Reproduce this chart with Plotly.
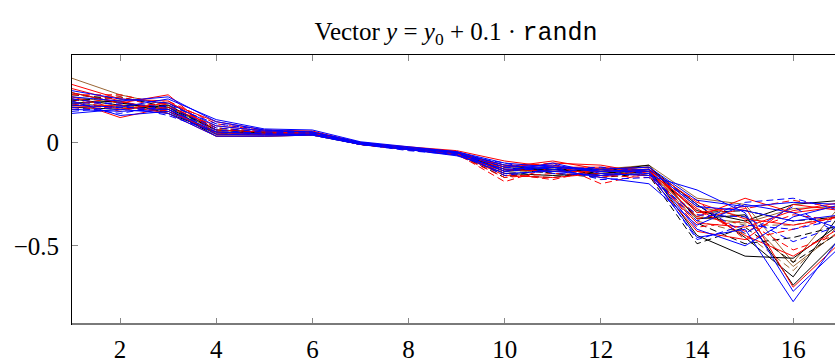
import plotly.graph_objects as go

x_vals = list(range(1, 18))
x_ticks = [2, 4, 6, 8, 10, 12, 14, 16]
y_ticks = [-0.5, 0]
y_tick_text = ["\u22120.5", "0"]

# blue solid
b1 = [0.16, 0.15, 0.16, 0.05, 0.04, 0.04, -0.005, -0.03, -0.05, -0.12, -0.11, -0.14, -0.13, -0.31, -0.33, -0.38, -0.35]
b2 = [0.22, 0.20, 0.22, 0.10, 0.06, 0.05, 0.000, -0.025, -0.045, -0.10, -0.12, -0.13, -0.12, -0.28, -0.31, -0.29, -0.30]
b3 = [0.14, 0.16, 0.14, 0.03, 0.03, 0.035, -0.01, -0.035, -0.06, -0.15, -0.14, -0.16, -0.15, -0.46, -0.42, -0.77, -0.45]
b4 = [0.25, 0.21, 0.19, 0.08, 0.055, 0.05, -0.005, -0.03, -0.05, -0.14, -0.10, -0.15, -0.16, -0.23, -0.34, -0.72, -0.50]
b5 = [0.18, 0.17, 0.21, 0.11, 0.065, 0.06, 0.003, -0.02, -0.045, -0.11, -0.13, -0.17, -0.20, -0.40, -0.30, -0.34, -0.42]
b6 = [0.20, 0.13, 0.15, 0.04, 0.035, 0.04, -0.01, -0.035, -0.065, -0.13, -0.12, -0.14, -0.14, -0.42, -0.50, -0.36, -0.30]
# blue dashed
bd1 = [0.19, 0.19, 0.17, 0.07, 0.05, 0.045, -0.005, -0.03, -0.055, -0.12, -0.14, -0.13, -0.15, -0.38, -0.29, -0.27, -0.33]
bd2 = [0.17, 0.14, 0.18, 0.09, 0.06, 0.05, 0.000, -0.03, -0.05, -0.16, -0.13, -0.12, -0.14, -0.47, -0.40, -0.42, -0.37]
bd3 = [0.21, 0.18, 0.13, 0.05, 0.045, 0.035, -0.01, -0.04, -0.06, -0.10, -0.15, -0.16, -0.13, -0.30, -0.44, -0.31, -0.45]
bd4 = [0.15, 0.17, 0.16, 0.06, 0.04, 0.04, -0.005, -0.03, -0.05, -0.14, -0.12, -0.18, -0.17, -0.35, -0.36, -0.48, -0.40]
# red solid
r1 = [0.28, 0.21, 0.20, 0.06, 0.05, 0.045, -0.005, -0.03, -0.05, -0.12, -0.09, -0.13, -0.12, -0.34, -0.31, -0.70, -0.48]
r2 = [0.24, 0.19, 0.23, 0.04, 0.04, 0.04, -0.01, -0.035, -0.06, -0.14, -0.10, -0.11, -0.15, -0.39, -0.41, -0.33, -0.29]
r3 = [0.20, 0.12, 0.17, 0.08, 0.055, 0.05, 0.000, -0.025, -0.045, -0.13, -0.14, -0.14, -0.13, -0.29, -0.37, -0.40, -0.36]
r4 = [0.17, 0.18, 0.14, 0.03, 0.03, 0.035, -0.005, -0.03, -0.055, -0.16, -0.17, -0.15, -0.16, -0.43, -0.47, -0.30, -0.33]
r5 = [0.22, 0.16, 0.19, 0.10, 0.06, 0.055, -0.003, -0.02, -0.04, -0.09, -0.12, -0.12, -0.14, -0.32, -0.45, -0.55, -0.41]
r6 = [0.26, 0.20, 0.15, 0.05, 0.04, 0.04, -0.01, -0.035, -0.06, -0.11, -0.11, -0.17, -0.13, -0.36, -0.27, -0.34, -0.31]
# red dashed
rd1 = [0.23, 0.23, 0.18, 0.07, 0.05, 0.045, -0.005, -0.03, -0.055, -0.19, -0.12, -0.14, -0.14, -0.33, -0.43, -0.35, -0.38]
rd2 = [0.18, 0.22, 0.16, 0.04, 0.04, 0.04, 0.000, -0.03, -0.05, -0.15, -0.18, -0.13, -0.13, -0.41, -0.38, -0.52, -0.44]
rd3 = [0.21, 0.15, 0.20, 0.09, 0.055, 0.05, -0.005, -0.025, -0.045, -0.12, -0.10, -0.20, -0.15, -0.37, -0.32, -0.28, -0.32]
rd4 = [0.16, 0.17, 0.15, 0.05, 0.045, 0.04, -0.01, -0.035, -0.06, -0.17, -0.15, -0.16, -0.17, -0.28, -0.47, -0.42, -0.35]
# black solid
k1 = [0.21, 0.18, 0.17, 0.04, 0.04, 0.04, -0.005, -0.03, -0.05, -0.13, -0.13, -0.14, -0.11, -0.37, -0.35, -0.69, -0.46]
k2 = [0.24, 0.19, 0.16, 0.03, 0.03, 0.035, -0.01, -0.035, -0.06, -0.15, -0.16, -0.15, -0.13, -0.45, -0.55, -0.56, -0.39]
k3 = [0.17, 0.16, 0.18, 0.06, 0.05, 0.045, 0.000, -0.03, -0.05, -0.11, -0.14, -0.13, -0.12, -0.30, -0.46, -0.65, -0.34]
k4 = [0.19, 0.20, 0.14, 0.05, 0.045, 0.04, -0.005, -0.025, -0.045, -0.14, -0.12, -0.16, -0.14, -0.33, -0.38, -0.30, -0.28]
# black dashed
kd1 = [0.20, 0.22, 0.17, 0.06, 0.045, 0.04, -0.005, -0.03, -0.05, -0.16, -0.17, -0.14, -0.16, -0.49, -0.41, -0.58, -0.43]
kd2 = [0.18, 0.17, 0.15, 0.04, 0.04, 0.04, -0.01, -0.035, -0.055, -0.17, -0.12, -0.13, -0.12, -0.34, -0.33, -0.38, -0.36]
kd3 = [0.23, 0.21, 0.19, 0.07, 0.05, 0.045, 0.000, -0.03, -0.05, -0.12, -0.15, -0.17, -0.15, -0.39, -0.49, -0.46, -0.40]
# brown solid
n1 = [0.31, 0.23, 0.18, 0.05, 0.045, 0.04, -0.005, -0.03, -0.05, -0.12, -0.12, -0.13, -0.11, -0.27, -0.30, -0.58, -0.30]
n2 = [0.19, 0.17, 0.16, 0.04, 0.04, 0.04, -0.01, -0.035, -0.055, -0.14, -0.13, -0.15, -0.14, -0.36, -0.39, -0.32, -0.31]
n3 = [0.22, 0.19, 0.17, 0.06, 0.05, 0.045, 0.000, -0.03, -0.05, -0.13, -0.14, -0.14, -0.13, -0.31, -0.36, -0.60, -0.42]
# brown dashed
nd1 = [0.20, 0.23, 0.18, 0.05, 0.045, 0.04, -0.005, -0.03, -0.05, -0.15, -0.13, -0.13, -0.14, -0.38, -0.44, -0.62, -0.39]
nd2 = [0.18, 0.18, 0.16, 0.06, 0.05, 0.045, -0.005, -0.03, -0.05, -0.13, -0.15, -0.16, -0.15, -0.35, -0.40, -0.40, -0.35]

BLUE, RED, BLACK, BROWN = "#0000ff", "#ff0000", "#000000", "#9a6634"
DASH = "7px,4px"

series = [
    (n1, BROWN, "solid"), (n2, BROWN, "solid"), (n3, BROWN, "solid"),
    (nd1, BROWN, DASH), (nd2, BROWN, DASH),
    (k1, BLACK, "solid"), (k2, BLACK, "solid"), (k3, BLACK, "solid"), (k4, BLACK, "solid"),
    (kd1, BLACK, DASH), (kd2, BLACK, DASH), (kd3, BLACK, DASH),
    (r1, RED, "solid"), (r2, RED, "solid"), (r3, RED, "solid"), (r4, RED, "solid"),
    (r5, RED, "solid"), (r6, RED, "solid"),
    (rd1, RED, DASH), (rd2, RED, DASH), (rd3, RED, DASH), (rd4, RED, DASH),
    (b1, BLUE, "solid"), (b2, BLUE, "solid"), (b3, BLUE, "solid"), (b4, BLUE, "solid"),
    (b5, BLUE, "solid"), (b6, BLUE, "solid"),
    (bd1, BLUE, DASH), (bd2, BLUE, DASH), (bd3, BLUE, DASH), (bd4, BLUE, DASH),
]

fig = go.Figure()
for vals, col, dash in series:
    fig.add_trace(go.Scatter(x=x_vals, y=vals, mode="lines",
                             line=dict(color=col, width=1, dash=dash),
                             showlegend=False, hoverinfo="skip"))

W, H = 835, 363
FONT = "Liberation Serif"
fig.update_layout(
    width=W, height=H,
    margin=dict(l=72, r=0, t=55, b=34),
    paper_bgcolor="white", plot_bgcolor="white",
    font=dict(family=FONT, color="black", size=25),
    title=dict(
        text="Vector <i>y</i> = <i>y</i><sub>0</sub> + 0.1 \u00b7 "
             "<span style='font-family:Liberation Mono'>randn</span>",
        x=(456 - 72) / (W - 72), xanchor="center", xref="paper",
        y=1 - 31 / H, yanchor="middle", yref="container",
        font=dict(family=FONT, size=25, color="black"),
    ),
    xaxis=dict(range=[1, 16.87], tickvals=x_ticks, ticks="inside", ticklen=6,
               tickcolor="#888888", tickwidth=1, showline=True, linecolor="black",
               linewidth=1, mirror="ticks", showgrid=False, zeroline=False,
               ticklabelstandoff=3, tickfont=dict(family=FONT, size=25)),
    yaxis=dict(range=[-0.878, 0.4224], tickvals=y_ticks, ticktext=y_tick_text,
               ticks="inside", ticklen=6, tickcolor="#888888", tickwidth=1,
               showline=True, linecolor="black", linewidth=1, mirror=False,
               showgrid=False, zeroline=False, ticklabelstandoff=7,
               tickfont=dict(family=FONT, size=25)),
)
fig.add_shape(type="line", xref="paper", yref="paper", x0=0, x1=1, y0=0, y1=0,
              line=dict(color="#7a7a7a", width=2), layer="above")

fig.write_html(
    "out.html",
    config={"displayModeBar": False},
    post_script="document.body.style.margin='0';"
                "document.body.style.overflow='hidden';",
)
